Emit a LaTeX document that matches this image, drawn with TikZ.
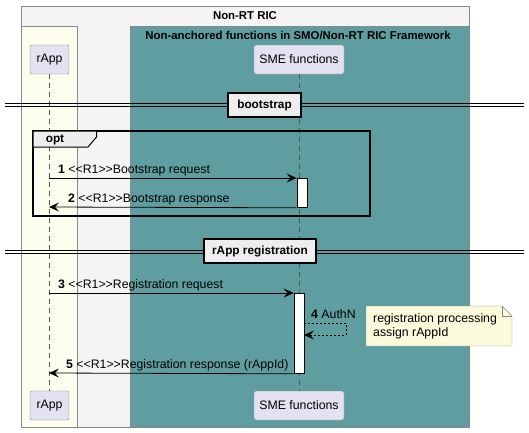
\documentclass[tikz,border=0pt]{standalone}
\usepackage{fontspec}
\setmainfont{Liberation Sans}
\usetikzlibrary{arrows.meta,positioning}

\definecolor{frameGray}{HTML}{F4F4F4}
\definecolor{appYellow}{HTML}{FEFEEE}
\definecolor{smeTeal}{HTML}{5F9EA0}
\definecolor{partBlue}{HTML}{E2E2F0}
\definecolor{partLine}{HTML}{888888}
\definecolor{noteYellow}{HTML}{FBFBDB}
\definecolor{divGray}{HTML}{EEEEEE}
\definecolor{lifeLine}{HTML}{555555}

\begin{document}
\begin{tikzpicture}[x=1pt,y=-1pt,every node/.style={font=\fontsize{12.3}{14.5}\selectfont},
  part/.style={draw=partLine,fill=partBlue,rounded corners=2pt,minimum height=29pt,inner sep=0pt},
  act/.style={draw=black,fill=white,minimum width=10pt,inner sep=0pt,line width=.8pt},
  msg/.style={-{Stealth[length=10pt,width=9pt,inset=4pt]},line width=.8pt},
  life/.style={draw=lifeLine,dash pattern=on 5pt off 4pt,line width=.7pt},
  divbox/.style={draw=black,line width=1.5pt,fill=divGray,inner sep=0pt,minimum height=24pt,font=\bfseries\fontsize{11.8}{14}\selectfont},
  title/.style={font=\bfseries\fontsize{11.4}{14}\selectfont},
  lbl/.style={anchor=base west,inner sep=0pt}]
\useasboundingbox (0,0) rectangle (529,432);
% boxes
\draw[draw=partLine,fill=frameGray] (21,6) rectangle (469,427);
\draw[draw=partLine,fill=appYellow] (21,26) rectangle (77,427);
\draw[draw=partLine,fill=smeTeal] (130,26) rectangle (469,427);
\node[title] (ricTitle) at (245,16) {Non-RT RIC};
\node[title] (smoTitle) at (298,35) {Non-anchored functions in SMO/Non-RT RIC Framework};
% participants
\node[part,minimum width=39pt] (appTop) at (49.5,59.5) {rApp};
\node[part,minimum width=90pt] (smeTop) at (299,59.5) {SME functions};
\node[part,minimum width=39pt] (appBot) at (49.5,405.5) {rApp};
\node[part,minimum width=90pt] (smeBot) at (299,405.5) {SME functions};
\draw[life] (appTop) -- (appBot);
\draw[life] (smeTop) -- (smeBot);
% bootstrap
\draw[line width=.9pt] (5,103.3) -- (524,103.3) (5,106.2) -- (524,106.2);
\node[divbox,minimum width=73pt] (bootDiv) at (264.5,105) {bootstrap};
\draw[line width=1.6pt] (33,131) rectangle (370,216);
\draw[fill=divGray,line width=1pt] (33,131) -- (96.5,131) -- (96.5,137) -- (88,147) -- (33,147) -- cycle;
\node[font=\bfseries\fontsize{11.8}{14}\selectfont] (optTag) at (55,139.5) {opt};
\node[act,minimum height=29pt,anchor=north] (actBoot) at (302,178) {};
\coordinate (m1) at (49,178);
\coordinate (m2) at (49,207);
\draw[msg] (m1) -- (actBoot.north west);
\draw[msg] (actBoot.south west) -- (m2);
\node[lbl] (l1) at (58,173.5) {\textbf{1} <{}<R1>{}>Bootstrap request};
\node[lbl] (l2) at (68,202.5) {\textbf{2} <{}<R1>{}>Bootstrap response};
% registration
\draw[line width=.9pt] (5,250.7) -- (524,250.7) (5,253.5) -- (524,253.5);
\node[divbox,minimum width=112pt] (regDiv) at (260,251) {rApp registration};
\node[act,minimum height=80pt,anchor=north] (actReg) at (299,293) {};
\coordinate (m3) at (49,293);
\coordinate (m5) at (49,373);
\coordinate (authOut) at (304,323);
\coordinate (authIn) at (304,335);
\draw[msg] (m3) -- (actReg.north west);
\draw[msg,dash pattern=on 2pt off 2pt] (authOut) -- ++(42,0) |- (authIn);
\draw[msg] (actReg.south west) -- (m5);
\node[lbl] (l3) at (58,288.5) {\textbf{3} <{}<R1>{}>Registration request};
\node[lbl] (l4) at (311,318) {\textbf{4} AuthN};
\node[lbl] (l5) at (66,368.5) {\textbf{5} <{}<R1>{}>Registration response (rAppId)};
% note
\draw[draw=partLine,fill=noteYellow] (366,306) -- (502,306) -- (512,316) -- (512,346) -- (366,346) -- cycle;
\draw[draw=partLine] (502,306) -- (502,316) -- (512,316);
\node[anchor=north west,align=left,inner sep=0pt] (procNote) at (373,313) {registration processing\\assign rAppId};
\end{tikzpicture}
\end{document}
